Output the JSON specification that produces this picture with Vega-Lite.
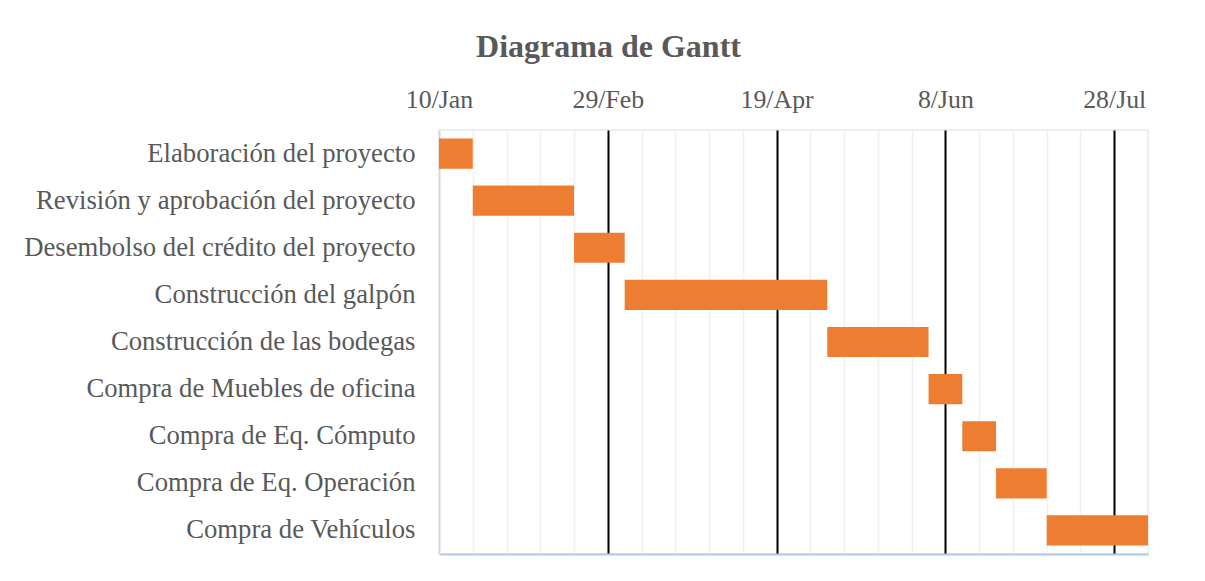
{
  "$schema": "https://vega.github.io/schema/vega-lite/v6.json",
  "autosize": {"type": "none"},
  "padding": {"left": 439, "top": 130, "right": 57, "bottom": 27},
  "width": 709,
  "height": 424,
  "background": "white",
  "title": {
    "text": "Diagrama de Gantt",
    "font": "Liberation Serif",
    "fontSize": 32,
    "fontWeight": "bold",
    "color": "#595959",
    "anchor": "middle",
    "frame": "group",
    "dx": -185,
    "offset": 22
  },
  "data": {
    "values": [
      {"tarea": "Elaboración del proyecto", "inicio": "2020-01-10", "fin": "2020-01-20"},
      {"tarea": "Revisión y aprobación del proyecto", "inicio": "2020-01-20", "fin": "2020-02-19"},
      {"tarea": "Desembolso del crédito del proyecto", "inicio": "2020-02-19", "fin": "2020-03-05"},
      {"tarea": "Construcción del galpón", "inicio": "2020-03-05", "fin": "2020-05-04"},
      {"tarea": "Construcción de las bodegas", "inicio": "2020-05-04", "fin": "2020-06-03"},
      {"tarea": "Compra de Muebles de oficina", "inicio": "2020-06-03", "fin": "2020-06-13"},
      {"tarea": "Compra de Eq. Cómputo", "inicio": "2020-06-13", "fin": "2020-06-23"},
      {"tarea": "Compra de Eq. Operación", "inicio": "2020-06-23", "fin": "2020-07-08"},
      {"tarea": "Compra de Vehículos", "inicio": "2020-07-08", "fin": "2020-08-07"}
    ]
  },
  "layer": [
    {
      "mark": {"type": "bar", "color": "#ED7D31"},
      "encoding": {
        "y": {
          "field": "tarea",
          "type": "nominal",
          "sort": null,
          "scale": {"paddingInner": 0.36, "paddingOuter": 0.18},
          "axis": {
            "title": null,
            "labelFont": "Liberation Serif",
            "labelFontSize": 26.7,
            "labelColor": "#595959",
            "labelPadding": 24,
            "labelLimit": 0,
            "ticks": false,
            "domainColor": "#D9D9D9",
            "domainWidth": 2,
            "grid": false
          }
        },
        "x": {
          "field": "inicio",
          "type": "temporal",
          "scale": {
            "type": "utc",
            "domain": [
              {"year": 2020, "month": 1, "date": 10, "utc": true},
              {"year": 2020, "month": 8, "date": 7, "utc": true}
            ]
          },
          "axis": {
            "orient": "top",
            "title": null,
            "format": "%-d/%b",
            "values": [
              {"year": 2020, "month": 1, "date": 10, "utc": true},
              {"year": 2020, "month": 1, "date": 20, "utc": true},
              {"year": 2020, "month": 1, "date": 30, "utc": true},
              {"year": 2020, "month": 2, "date": 9, "utc": true},
              {"year": 2020, "month": 2, "date": 19, "utc": true},
              {"year": 2020, "month": 2, "date": 29, "utc": true},
              {"year": 2020, "month": 3, "date": 10, "utc": true},
              {"year": 2020, "month": 3, "date": 20, "utc": true},
              {"year": 2020, "month": 3, "date": 30, "utc": true},
              {"year": 2020, "month": 4, "date": 9, "utc": true},
              {"year": 2020, "month": 4, "date": 19, "utc": true},
              {"year": 2020, "month": 4, "date": 29, "utc": true},
              {"year": 2020, "month": 5, "date": 9, "utc": true},
              {"year": 2020, "month": 5, "date": 19, "utc": true},
              {"year": 2020, "month": 5, "date": 29, "utc": true},
              {"year": 2020, "month": 6, "date": 8, "utc": true},
              {"year": 2020, "month": 6, "date": 18, "utc": true},
              {"year": 2020, "month": 6, "date": 28, "utc": true},
              {"year": 2020, "month": 7, "date": 8, "utc": true},
              {"year": 2020, "month": 7, "date": 18, "utc": true},
              {"year": 2020, "month": 7, "date": 28, "utc": true},
              {"year": 2020, "month": 8, "date": 7, "utc": true}
            ],
            "labelExpr": "(datum.value - utc(2020,0,10)) % 4320000000 == 0 ? datum.label : ''",
            "labelFont": "Liberation Serif",
            "labelFontSize": 25.8,
            "labelColor": "#595959",
            "labelPadding": 18,
            "labelOverlap": false,
            "labelFlush": false,
            "labelBound": false,
            "ticks": false,
            "domain": false,
            "grid": true,
            "gridColor": {
              "condition": {"test": "(datum.value - utc(2020,0,10)) % 4320000000 == 0 && datum.value > utc(2020,0,10)", "value": "#000000"},
              "value": "#F0F0F0"
            },
            "gridWidth": {
              "condition": {"test": "(datum.value - utc(2020,0,10)) % 4320000000 == 0 && datum.value > utc(2020,0,10)", "value": 2},
              "value": 1.5
            }
          }
        },
        "x2": {"field": "fin"}
      }
    },
    {
      "mark": {"type": "bar", "opacity": 0},
      "encoding": {
        "y": {"field": "tarea", "type": "nominal", "sort": null},
        "x": {
          "field": "inicio",
          "type": "temporal",
          "axis": {
            "orient": "bottom",
            "title": null,
            "labels": false,
            "ticks": false,
            "grid": false,
            "domain": true,
            "domainColor": "#B4C7E7",
            "domainWidth": 2
          }
        },
        "x2": {"field": "fin"}
      }
    }
  ],
  "resolve": {"axis": {"x": "independent"}},
  "config": {
    "view": {"stroke": "#E3E9F4", "strokeWidth": 1.5}
  }
}
